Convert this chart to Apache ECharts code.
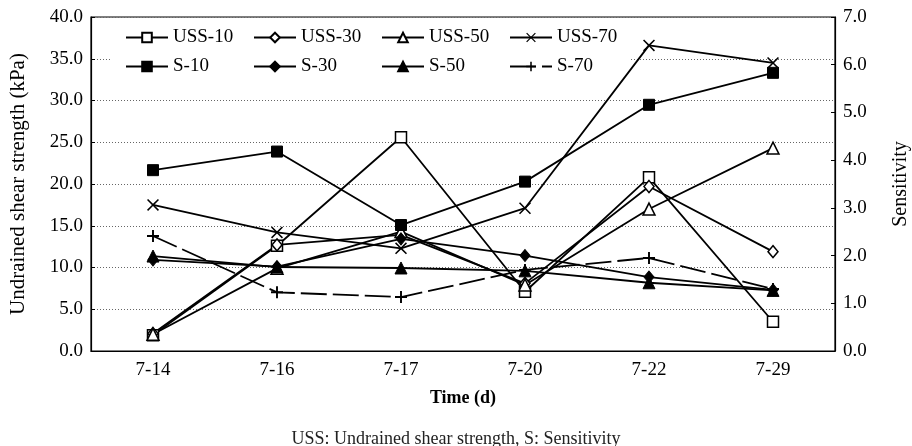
<!DOCTYPE html>
<html><head><meta charset="utf-8">
<script src="https://cdn.jsdelivr.net/npm/echarts@6/dist/echarts.min.js"></script>
<style>html,body{margin:0;padding:0;background:#fff}#c{width:912px;height:446px}</style>
</head><body><div id="c"></div>
<script>
const categories = ['7-14','7-16','7-17','7-20','7-22','7-29'];
const uss10 = [1.9, 12.6, 25.6, 7.1, 20.8, 3.5];
const uss30 = [2.1, 12.7, 13.9, 8.1, 19.7, 11.9];
const uss50 = [2.0, 9.9, 14.3, 7.9, 17.0, 24.3];
const uss70 = [17.5, 14.2, 12.3, 17.1, 36.6, 34.5];
const s10 = [3.79, 4.18, 2.64, 3.55, 5.16, 5.83];
const s30 = [1.91, 1.77, 2.35, 2.00, 1.55, 1.28];
const s50 = [1.99, 1.76, 1.74, 1.68, 1.43, 1.27];
const s70 = [2.41, 1.23, 1.13, 1.70, 1.95, 1.30];
const leftTicks = {min: 0, max: 40, interval: 5};
const rightTicks = {min: 0, max: 7, interval: 1};

const FONT = 'Liberation Serif';
const PLUS = 'path://M4.2,0 H5.8 V4.2 H10 V5.8 H5.8 V10 H4.2 V5.8 H0 V4.2 H4.2 Z';
const CROSS = 'path://M0,0.9 L0.9,0 L5,4.1 L9.1,0 L10,0.9 L5.9,5 L10,9.1 L9.1,10 L5,5.9 L0.9,10 L0,9.1 L4.1,5 Z';
const open = {color: '#fff', borderColor: '#000', borderWidth: 1.5};
const filled = {color: '#000', borderColor: '#000', borderWidth: 1};
function mk(name, data, axis, symbol, size, style, extra) {
  return Object.assign({
    name, type: 'line', data, yAxisIndex: axis, symbol, symbolSize: size,
    showAllSymbol: true, itemStyle: style,
    lineStyle: {color: '#000', width: 1.8}, emphasis: {disabled: true}, animation: false
  }, extra || {});
}
const series = [
  mk('USS-10', uss10, 0, 'rect', 11, open),
  mk('USS-30', uss30, 0, 'diamond', [10, 12], open),
  mk('USS-50', uss50, 0, 'triangle', 12, open),
  mk('USS-70', uss70, 0, CROSS, 12, {color: '#000'}),
  mk('S-10', s10, 1, 'rect', 11, filled),
  mk('S-30', s30, 1, 'diamond', [10, 12], filled),
  mk('S-50', s50, 1, 'triangle', 12, filled),
  mk('S-70', s70, 1, PLUS, 12, {color: '#000'}, {lineStyle: {color: '#000', width: 1.8, type: [26, 6]}})
];
const axisLbl = {color: '#000', fontFamily: FONT, fontSize: 19};
const chart = echarts.init(document.getElementById('c'), null, {renderer: 'canvas'});
chart.setOption({
  backgroundColor: '#fff',
  animation: false,
  grid: {left: 91, right: 77, top: 17, bottom: 95, show: true, borderColor: '#000', borderWidth: 1.2,
         backgroundColor: 'transparent', containLabel: false, outerBoundsMode: 'none'},
  legend: {
    left: 110, top: 22, width: 520, orient: 'horizontal', z: 1,
    padding: [6, 4, 6, 15], backgroundColor: '#fff',
    itemWidth: 42, itemHeight: 12, itemGap: 10,
    textStyle: {fontFamily: FONT, fontSize: 19, color: '#000', width: 70, lineHeight: 19},
    data: series.map(s => s.name)
  },
  xAxis: {
    type: 'category', data: categories, boundaryGap: true,
    name: 'Time (d)', nameLocation: 'middle', nameGap: 38,
    nameTextStyle: {fontFamily: FONT, fontSize: 18, fontWeight: 'bold', color: '#000'},
    axisLine: {lineStyle: {color: '#000', width: 1.2}},
    axisTick: {inside: true, length: 5, lineStyle: {color: '#000'}},
    axisLabel: Object.assign({margin: 10}, axisLbl),
    splitLine: {show: false}
  },
  yAxis: [
    Object.assign({
      type: 'value', position: 'left',
      name: 'Undrained shear strength (kPa)', nameLocation: 'middle', nameGap: 62, nameRotate: 90,
      nameTextStyle: {fontFamily: FONT, fontSize: 21, color: '#000'},
      axisLine: {show: true, lineStyle: {color: '#000', width: 1.2}},
      axisTick: {show: true, inside: true, length: 4, lineStyle: {color: '#000'}},
      axisLabel: Object.assign({margin: 8, formatter: v => v.toFixed(1)}, axisLbl),
      splitLine: {show: true, lineStyle: {color: '#666', type: [1, 2], width: 1}}
    }, leftTicks),
    Object.assign({
      type: 'value', position: 'right',
      name: 'Sensitivity', nameLocation: 'middle', nameGap: 56, nameRotate: 90,
      nameTextStyle: {fontFamily: FONT, fontSize: 20, color: '#000'},
      axisLine: {show: true, lineStyle: {color: '#000', width: 1.2}},
      axisTick: {show: true, inside: true, length: 4, lineStyle: {color: '#000'}},
      axisLabel: Object.assign({margin: 8, formatter: v => v.toFixed(1)}, axisLbl),
      splitLine: {show: false}
    }, rightTicks)
  ],
  graphic: [{
    type: 'text', left: 'center', top: 430,
    style: {text: 'USS: Undrained shear strength, S: Sensitivity', font: '18px "Liberation Serif"', fill: '#222'}
  }],
  series
});
</script></body></html>
